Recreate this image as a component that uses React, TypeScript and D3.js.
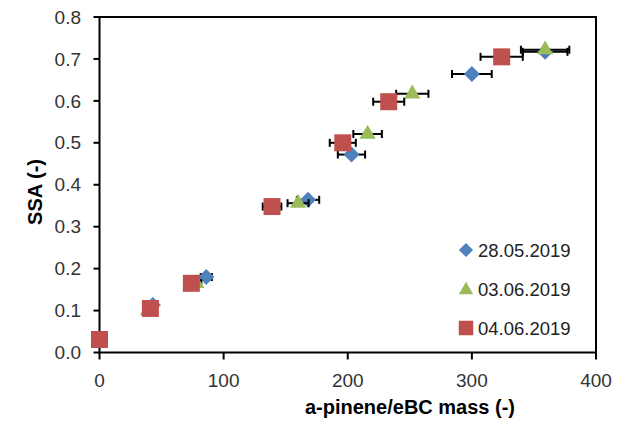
import React from "react";
import * as d3 from "d3";

const seriesNames = ["28.05.2019", "03.06.2019", "04.06.2019"];
const seriesColors = ["#4F81BD", "#9BBB59", "#C0504D"];

const diamondX = [43, 86, 168, 203, 300, 359];
const diamondY = [0.113, 0.18, 0.364, 0.472, 0.664, 0.717];
const diamondErr = [2.5, 4.5, 9, 11, 16, 18];

const triangleX = [39, 78, 160, 216, 252, 359];
const triangleY = [0.1, 0.165, 0.356, 0.521, 0.617, 0.722];
const triangleErr = [2, 4, 8.5, 11.5, 13, 19.5];

const squareX = [0, 41, 74, 139, 196, 233, 324];
const squareY = [0.031, 0.105, 0.165, 0.348, 0.5, 0.598, 0.705];
const squareErr = [0, 2, 4, 7.5, 10.5, 12.5, 17];

const xTicks = [0, 100, 200, 300, 400];
const yTicks = [0, 0.1, 0.2, 0.3, 0.4, 0.5, 0.6, 0.7, 0.8];

const xTitle = "a-pinene/eBC mass (-)";
const yTitle = "SSA (-)";

const W = 630;
const H = 424;
const L = 99.5;
const R = 596;
const T = 17;
const B = 352.5;

const FONT = "'Liberation Sans', Arial, sans-serif";

export default function App() {
  const x = d3.scaleLinear().domain([0, 400]).range([L, R]);
  const y = d3.scaleLinear().domain([0, 0.8]).range([B, T]);

  const diamondPath = d3.symbol().type(d3.symbolSquare).size(128)()!;
  const trianglePath = d3.symbol().type(d3.symbolTriangle).size(112)()!;
  const squarePath = d3.symbol().type(d3.symbolSquare).size(289)()!;

  const legDiamond = d3.symbol().type(d3.symbolSquare).size(100)()!;
  const legTriangle = d3.symbol().type(d3.symbolTriangle).size(90)()!;
  const legSquare = d3.symbol().type(d3.symbolSquare).size(210)()!;

  const series = [
    { xs: diamondX, ys: diamondY, es: diamondErr, path: diamondPath, rot: 45, leg: legDiamond },
    { xs: triangleX, ys: triangleY, es: triangleErr, path: trianglePath, rot: 0, leg: legTriangle },
    { xs: squareX, ys: squareY, es: squareErr, path: squarePath, rot: 0, leg: legSquare },
  ];

  const legendY = [250, 289, 328];

  return (
    <svg width={W} height={H} style={{ position: "absolute", left: 0, top: 0, background: "#fff" }}>
      <rect x={0} y={0} width={W} height={H} fill="#fff" />
      {/* frame */}
      <rect x={L} y={T} width={R - L} height={B - T} fill="none" stroke="#000" strokeWidth={2} />
      {/* y ticks */}
      {yTicks.map((t) => (
        <g key={"y" + t}>
          <line x1={L - 6} x2={L} y1={y(t)} y2={y(t)} stroke="#000" strokeWidth={2} />
          <text
            x={81}
            y={y(t)}
            dy="0.35em"
            textAnchor="end"
            fontFamily={FONT}
            fontSize={19}
            fill="#333"
          >
            {t.toFixed(1)}
          </text>
        </g>
      ))}
      {/* x ticks */}
      {xTicks.map((t) => (
        <g key={"x" + t}>
          <line x1={x(t)} x2={x(t)} y1={B} y2={B + 7} stroke="#000" strokeWidth={2} />
          <text x={x(t)} y={387} textAnchor="middle" fontFamily={FONT} fontSize={19} fill="#333">
            {t}
          </text>
        </g>
      ))}
      {/* data */}
      {series.map((s, si) => (
        <g key={"s" + si}>
          {s.xs.map((xv, i) =>
            s.es[i] > 0 ? (
              <g key={"e" + i} stroke="#000" strokeWidth={2}>
                <line x1={x(xv - s.es[i])} x2={x(xv + s.es[i])} y1={y(s.ys[i])} y2={y(s.ys[i])} />
                <line x1={x(xv - s.es[i])} x2={x(xv - s.es[i])} y1={y(s.ys[i]) - 4} y2={y(s.ys[i]) + 4} />
                <line x1={x(xv + s.es[i])} x2={x(xv + s.es[i])} y1={y(s.ys[i]) - 4} y2={y(s.ys[i]) + 4} />
              </g>
            ) : null
          )}
          {s.xs.map((xv, i) => (
            <path
              key={"m" + i}
              d={s.path}
              transform={`translate(${x(xv)},${y(s.ys[i])}) rotate(${s.rot})`}
              fill={seriesColors[si]}
            />
          ))}
        </g>
      ))}
      {/* legend */}
      {seriesNames.map((name, i) => (
        <g key={"l" + i}>
          <path
            d={series[i].leg}
            transform={`translate(466,${legendY[i] + (i === 1 ? 1 : 0)}) rotate(${series[i].rot})`}
            fill={seriesColors[i]}
          />
          <text x={478} y={legendY[i]} dy="0.36em" fontFamily={FONT} fontSize={18.5} fill="#222">
            {name}
          </text>
        </g>
      ))}
      {/* axis titles */}
      <text x={410} y={414} textAnchor="middle" fontFamily={FONT} fontSize={20} fontWeight="bold" fill="#000">
        {xTitle}
      </text>
      <text
        transform={`translate(42,${192}) rotate(-90)`}
        textAnchor="middle"
        fontFamily={FONT}
        fontSize={20}
        fontWeight="bold"
        fill="#000"
      >
        {yTitle}
      </text>
    </svg>
  );
}
